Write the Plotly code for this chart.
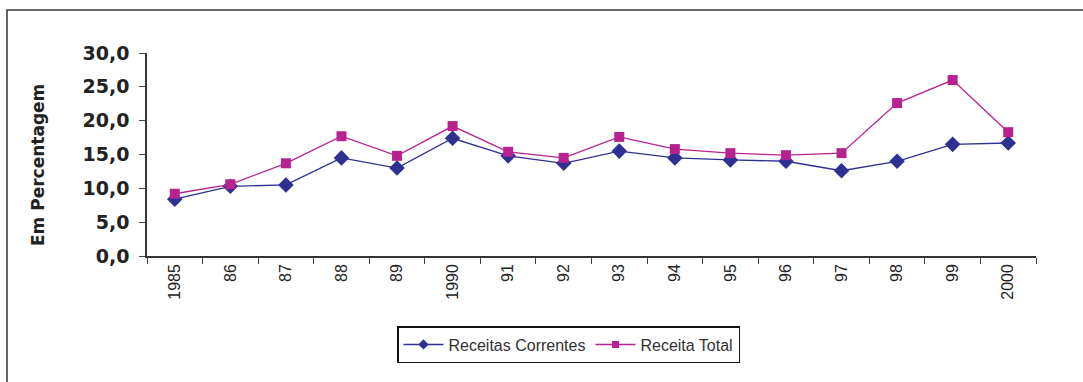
import plotly.graph_objects as go

years = ["1985", "86", "87", "88", "89", "1990", "91", "92", "93", "94",
         "95", "96", "97", "98", "99", "2000"]
receitas_correntes = [8.4, 10.3, 10.5, 14.5, 13.0, 17.4, 14.8, 13.7, 15.5, 14.5,
                      14.2, 14.0, 12.6, 14.0, 16.5, 16.7]
receita_total = [9.2, 10.6, 13.7, 17.7, 14.8, 19.2, 15.4, 14.5, 17.6, 15.8,
                 15.2, 14.9, 15.2, 22.6, 26.0, 18.3]
y_ticks = [0, 5, 10, 15, 20, 25, 30]

W, H = 1083, 382
L, R, T, B = 147, 1036, 53, 256

BLUE = "#2E3192"
PINK = "#B8228E"

fig = go.Figure()
# data series (legend entries are drawn separately with small markers)
fig.add_trace(go.Scatter(
    x=years, y=receitas_correntes, name="Receitas Correntes",
    mode="lines+markers", showlegend=False,
    line=dict(color=BLUE, width=1.3),
    marker=dict(symbol="diamond", size=12, color=BLUE),
))
fig.add_trace(go.Scatter(
    x=years, y=receita_total, name="Receita Total",
    mode="lines+markers", showlegend=False,
    line=dict(color=PINK, width=1.3),
    marker=dict(symbol="square", size=10, color=PINK),
))
# legend keys
fig.add_trace(go.Scatter(
    x=[None], y=[None], name="Receitas Correntes", mode="lines+markers",
    line=dict(color=BLUE, width=1.5),
    marker=dict(symbol="diamond", size=8, color=BLUE),
))
fig.add_trace(go.Scatter(
    x=[None], y=[None], name="Receita Total", mode="lines+markers",
    line=dict(color=PINK, width=1.5),
    marker=dict(symbol="square", size=7, color=PINK),
))

def px_x(p):
    return (p - L) / (R - L)

def px_y(p):
    return (B - p) / (B - T)

fig.update_layout(
    width=W, height=H,
    margin=dict(l=L, r=W - R, t=T, b=H - B),
    paper_bgcolor="white", plot_bgcolor="white",
    separators=",.",
    font=dict(family="Liberation Sans, Arial, sans-serif", color="#222222"),
    showlegend=True,
    legend=dict(
        orientation="h",
        x=px_x(397), y=px_y(326), xanchor="left", yanchor="top",
        bordercolor="#111111", borderwidth=1.5,
        font=dict(size=16, color="#333333"),
        itemwidth=40,
        tracegroupgap=0,
    ),
    xaxis=dict(
        type="category",
        tickson="boundaries",
        ticks="outside", ticklen=6, tickcolor="#444444",
        showline=True, linecolor="#333333", linewidth=1.5,
        showgrid=False, zeroline=False,
        tickangle=-90,
        tickfont=dict(size=16, color="#222222"),
        range=[-0.5, len(years) - 0.5],
    ),
    yaxis=dict(
        range=[0, 30],
        tickvals=y_ticks, tickformat=".1f",
        ticks="outside", ticklen=6, tickcolor="#444444",
        showline=True, linecolor="#333333", linewidth=1.5,
        showgrid=False, zeroline=False,
        ticklabelstandoff=6,
        tickfont=dict(size=19, color="#222222", family="DejaVu Sans", weight="bold"),
    ),
    annotations=[dict(
        text="Em Percentagem", textangle=-90,
        xref="paper", yref="paper", x=px_x(38), y=px_y(165),
        xanchor="center", yanchor="middle", showarrow=False,
        font=dict(size=17, color="#222222", family="DejaVu Sans", weight="bold"),
    )],
    shapes=[dict(
        type="rect", xref="paper", yref="paper",
        x0=px_x(7), x1=px_x(1095), y0=px_y(395), y1=px_y(10),
        line=dict(color="#333333", width=1.5), fillcolor="rgba(0,0,0,0)",
        layer="below",
    )],
)

fig.write_html("out.html")
